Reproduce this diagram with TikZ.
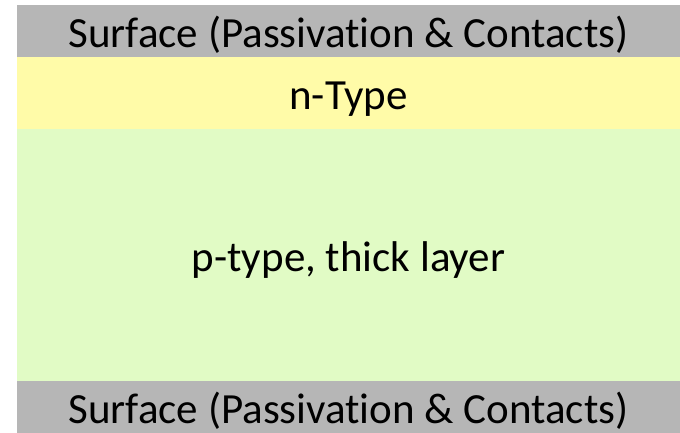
\documentclass[tikz,border=0pt]{standalone}
\usepackage{fontspec}
\setmainfont[Ligatures=NoCommon]{Carlito}
\usetikzlibrary{positioning}
\definecolor{surfgray}{HTML}{B6B6B6}
\definecolor{ntypeyellow}{HTML}{FFFBA8}
\definecolor{ptypegreen}{HTML}{E1FBC5}
\tikzset{%
  layer/.style={draw=none,minimum width=663pt,inner sep=0pt,outer sep=0pt,
    text height=33pt,text depth=0pt,
    font=\fontsize{43}{50}\selectfont,anchor=north west}
}

\begin{document}
\begin{tikzpicture}[x=1pt,y=1pt]
\useasboundingbox (0,0) rectangle (680,-432);

% Stack of layers, top to bottom
\node[layer,fill=surfgray,minimum height=52pt] (topsurf) at (17,-5) {Surface (Passivation \& Contacts)};
\node[layer,fill=ntypeyellow,minimum height=72pt,below=0pt of topsurf.south west,anchor=north west] (ntype) {n-Type};
\node[layer,fill=ptypegreen,minimum height=252pt,below=0pt of ntype.south west,anchor=north west] (ptype) {p-type, thick layer};
\node[layer,fill=surfgray,minimum height=52pt,below=0pt of ptype.south west,anchor=north west] (botsurf) {Surface (Passivation \& Contacts)};

\end{tikzpicture}
\end{document}
